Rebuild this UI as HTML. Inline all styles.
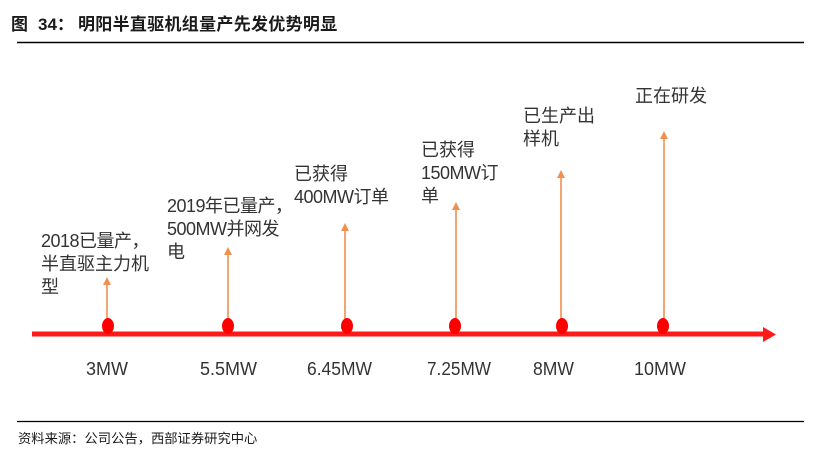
<!DOCTYPE html>
<html><head><meta charset="utf-8"><style>
html,body{margin:0;padding:0;background:#fff;}
svg{display:block;}
.t{font-family:"Liberation Sans","Noto Sans CJK SC",sans-serif;}
</style></head><body>
<svg width="821" height="453" viewBox="0 0 821 453" xmlns="http://www.w3.org/2000/svg">
<rect width="821" height="453" fill="#fff"/>
<!-- title -->
<g class="t" font-weight="bold" font-size="17" fill="#1a1a1a">
<text x="11" y="30">图</text>
<text x="38" y="30">34：</text>
<text x="78" y="30" letter-spacing="0.3">明阳半直驱机组量产先发优势明显</text>
</g>
<line x1="17" y1="42.5" x2="804" y2="42.5" stroke="#000" stroke-width="1.5"/>
<!-- axis -->
<line x1="32" y1="334" x2="765" y2="334" stroke="#ff1a1a" stroke-width="5"/>
<polygon points="763,327 776,334.5 763,342" fill="#ff1a1a"/>
<!-- arrows -->
<g stroke="#f0904f" stroke-width="1.6">
<line x1="107" y1="320" x2="107" y2="283"/>
<line x1="228" y1="320" x2="228" y2="253"/>
<line x1="345" y1="320" x2="345" y2="229"/>
<line x1="456" y1="320" x2="456" y2="208"/>
<line x1="561" y1="320" x2="561" y2="176"/>
<line x1="664" y1="320" x2="664" y2="137"/>
</g>
<g fill="#f0904f">
<polygon points="103,285 107,277 111,285"/>
<polygon points="224,255 228,247 232,255"/>
<polygon points="341,231 345,223 349,231"/>
<polygon points="452,210 456,202 460,210"/>
<polygon points="557,178 561,170 565,178"/>
<polygon points="660,139 664,131 668,139"/>
</g>
<!-- dots -->
<g fill="#ff0000">
<ellipse cx="108" cy="326" rx="6" ry="8"/>
<ellipse cx="228" cy="326" rx="6" ry="8"/>
<ellipse cx="347" cy="326" rx="6" ry="8"/>
<ellipse cx="455" cy="326" rx="6" ry="8"/>
<ellipse cx="562" cy="326" rx="6" ry="8"/>
<ellipse cx="663" cy="326" rx="6" ry="8"/>
</g>
<!-- upper labels -->
<g class="t" font-size="18" fill="#333">
<text x="41" y="247" letter-spacing="-0.5">2018已量产，</text>
<text x="41" y="270">半直驱主力机</text>
<text x="41" y="293">型</text>
<text x="167" y="212" letter-spacing="-0.5">2019年已量产，</text>
<text x="167" y="235" letter-spacing="-0.5">500MW并网发</text>
<text x="167" y="258">电</text>
<text x="294" y="180">已获得</text>
<text x="294" y="203" letter-spacing="-0.5">400MW订单</text>
<text x="421" y="156">已获得</text>
<text x="421" y="179" letter-spacing="-0.5">150MW订</text>
<text x="421" y="202">单</text>
<text x="523" y="122">已生产出</text>
<text x="523" y="145">样机</text>
<text x="635" y="102">正在研发</text>
</g>
<!-- bottom labels -->
<g class="t" font-size="18" fill="#333">
<text x="86" y="375" textLength="42" lengthAdjust="spacingAndGlyphs">3MW</text>
<text x="200" y="375" textLength="57" lengthAdjust="spacingAndGlyphs">5.5MW</text>
<text x="307" y="375" textLength="65" lengthAdjust="spacingAndGlyphs">6.45MW</text>
<text x="427" y="375" textLength="64" lengthAdjust="spacingAndGlyphs">7.25MW</text>
<text x="533" y="375" textLength="41" lengthAdjust="spacingAndGlyphs">8MW</text>
<text x="634" y="375" textLength="52" lengthAdjust="spacingAndGlyphs">10MW</text>
</g>
<line x1="17" y1="421.5" x2="804" y2="421.5" stroke="#000" stroke-width="1.3"/>
<text class="t" x="18" y="443" font-size="13.3" fill="#1a1a1a">资料来源：公司公告，西部证券研究中心</text>
</svg>
</body></html>
